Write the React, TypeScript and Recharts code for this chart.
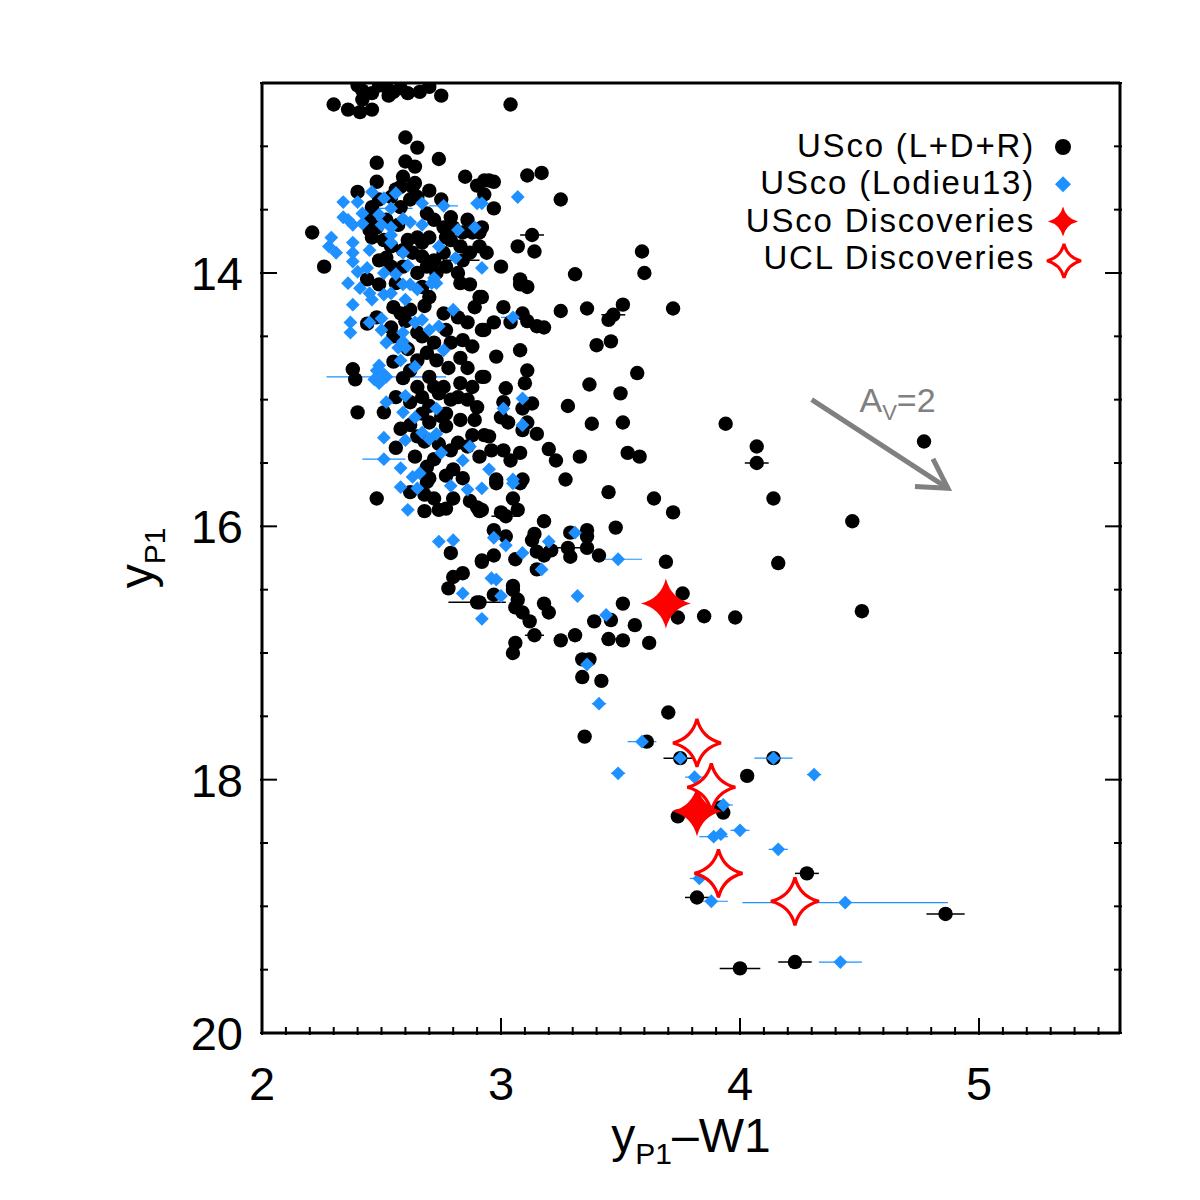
import React from 'react'
import {
  ScatterChart,
  Scatter,
  XAxis,
  YAxis,
  ErrorBar,
  ReferenceLine,
  ReferenceDot,
} from 'recharts'

// [color y_P1 - W1, magnitude y_P1, optional x error]
type Row = [number, number, number?]

const USCO_LDR: Row[] = [
  [2.40, 12.52], [2.42, 12.56], [2.46, 12.58], [2.49, 12.52], [2.52, 12.53], [2.53, 12.60],
  [2.55, 12.57], [2.58, 12.54], [2.61, 12.58], [2.66, 12.57], [2.70, 12.53], [2.75, 12.60],
  [2.42, 12.63], [2.30, 12.67], [2.36, 12.71], [2.41, 12.73], [2.46, 12.71], [3.04, 12.67],
  [2.60, 12.93], [2.65, 13.01], [2.48, 13.13], [2.60, 13.12], [2.64, 13.16], [2.74, 13.10],
  [2.85, 13.24], [2.93, 13.27], [2.48, 13.28], [2.59, 13.24], [2.58, 13.32], [2.64, 13.29],
  [2.40, 13.36], [2.90, 13.31], [2.21, 13.68], [2.26, 13.95],
  [2.63, 13.32], [2.56, 13.34], [2.54, 13.40], [2.49, 13.42], [2.46, 13.48], [2.45, 13.58],
  [2.48, 13.64], [2.52, 13.58], [2.58, 13.48], [2.62, 13.42], [2.65, 13.40], [2.69, 13.53],
  [2.72, 13.58], [2.76, 13.64], [2.79, 13.56], [2.80, 13.64], [2.77, 13.72], [2.70, 13.72],
  [2.67, 13.76], [2.65, 13.72], [2.61, 13.74], [2.59, 13.82], [2.63, 13.84], [2.67, 13.87],
  [2.72, 13.90], [2.76, 13.84], [2.79, 13.74], [2.83, 13.79], [2.86, 13.58], [2.88, 13.68],
  [2.91, 13.79], [2.84, 13.68], [2.54, 13.79], [2.51, 13.74], [2.46, 13.72], [2.45, 13.66],
  [2.49, 13.90], [2.54, 13.95], [2.59, 13.95], [2.65, 14.00], [2.69, 13.95], [2.73, 14.00],
  [2.77, 13.95], [2.82, 14.00], [2.84, 13.90, 0.07], [2.87, 13.84], [2.92, 13.64], [2.94, 13.84],
  [2.95, 13.27], [2.97, 13.28], [3.11, 13.23], [3.17, 13.21], [2.93, 13.38], [2.97, 13.49],
  [3.25, 13.42], [2.91, 13.68], [3.13, 13.70, 0.05], [3.07, 13.79], [3.14, 13.83], [3.00, 13.95],
  [3.31, 14.01], [3.59, 13.83], [3.60, 14.00], [3.08, 14.05],
  [3.08, 14.09], [3.11, 14.11], [2.92, 14.19], [3.01, 14.27], [3.09, 14.32], [3.11, 14.38],
  [3.15, 14.42], [3.18, 14.43], [3.04, 14.39], [2.97, 14.39], [2.93, 14.45], [3.25, 14.30],
  [3.36, 14.28], [3.51, 14.25], [3.45, 14.37], [3.47, 14.33, 0.05], [3.72, 14.28], [3.08, 14.61],
  [2.98, 14.66], [3.40, 14.57], [3.46, 14.54], [3.11, 14.77], [2.93, 14.82], [3.02, 14.91],
  [3.10, 14.87], [3.37, 14.88], [3.57, 14.79], [3.50, 14.95], [3.28, 15.05], [3.13, 15.03],
  [3.09, 15.07], [3.01, 15.02], [3.00, 15.14], [3.03, 15.18], [3.11, 15.18], [3.09, 15.24],
  [3.15, 15.27], [3.38, 15.19], [3.51, 15.18], [2.95, 15.29], [2.96, 15.40], [3.01, 15.40],
  [3.04, 15.48], [3.08, 15.42], [3.20, 15.39], [3.23, 15.48], [3.33, 15.45], [3.53, 15.42],
  [3.58, 15.45], [2.98, 15.63], [3.09, 15.63], [3.27, 15.63],
  [2.98, 15.66], [3.08, 15.66], [3.45, 15.73], [3.64, 15.78], [3.72, 15.89], [3.05, 15.78],
  [3.07, 15.87], [3.00, 15.89], [3.02, 15.92, 0.06], [2.92, 15.87], [3.18, 15.96], [3.48, 16.01],
  [3.14, 16.06], [3.13, 16.11], [3.29, 16.05], [3.36, 16.03], [3.36, 16.08], [2.97, 16.03],
  [3.02, 16.08], [3.15, 16.20], [3.18, 16.23], [3.21, 16.19], [3.28, 16.17, 0.1], [3.29, 16.24],
  [3.36, 16.17], [3.41, 16.23], [2.97, 16.23], [3.06, 16.26], [2.92, 16.27], [3.69, 16.28],
  [3.15, 16.34], [3.05, 16.47], [3.05, 16.50], [3.07, 16.58], [3.09, 16.68], [3.12, 16.75],
  [3.18, 16.61], [3.20, 16.68], [3.06, 16.64], [2.97, 16.54], [2.91, 16.60], [3.51, 16.61],
  [3.39, 16.75], [3.46, 16.74], [3.56, 16.78], [3.31, 16.86], [3.25, 16.90], [3.14, 16.86, 0.04],
  [3.06, 16.92], [3.05, 17.00], [3.45, 16.89, 0.03], [3.51, 16.90], [3.62, 16.92], [3.34, 17.05],
  [3.37, 17.05], [3.34, 17.19], [3.42, 17.22], [3.74, 16.72],
  [2.48, 15.78], [2.69, 15.65], [2.68, 15.75], [2.72, 15.78], [2.80, 15.78], [2.68, 15.88],
  [2.74, 15.87], [2.77, 15.86], [2.90, 15.85], [2.91, 15.88], [2.79, 16.21], [2.92, 16.28],
  [2.80, 16.40], [2.84, 16.37], [2.78, 16.49], [2.90, 16.60, 0.12],
  [2.49, 14.09], [2.56, 14.08], [2.67, 14.11], [2.70, 14.19], [2.83, 14.08], [2.87, 14.09],
  [2.91, 14.19], [2.89, 14.27], [2.55, 14.27], [2.58, 14.32], [2.62, 14.29], [2.76, 14.32],
  [2.82, 14.35], [2.86, 14.39], [2.92, 14.45], [2.48, 14.35], [2.54, 14.43], [2.65, 14.47],
  [2.67, 14.50], [2.77, 14.45], [2.79, 14.55], [2.84, 14.53], [2.88, 14.58], [2.69, 14.63],
  [2.65, 14.69], [2.73, 14.69], [2.83, 14.67], [2.92, 14.82], [2.70, 14.82], [2.59, 14.83],
  [2.65, 14.90], [2.72, 14.90], [2.76, 14.90], [2.83, 14.87], [2.88, 14.90], [2.67, 14.98],
  [2.74, 14.95], [2.82, 14.98], [2.86, 15.00], [2.90, 15.06], [2.56, 14.98], [2.51, 15.10],
  [2.67, 15.11], [2.70, 15.18], [2.77, 15.11], [2.83, 15.16], [2.77, 15.21], [2.89, 15.16],
  [2.88, 15.28], [2.93, 15.28], [2.65, 15.29], [2.82, 15.34], [2.79, 15.40], [2.86, 15.37],
  [2.91, 15.45], [2.80, 15.55], [2.56, 15.38], [2.69, 15.53], [2.40, 15.10], [2.38, 14.76],
  [2.39, 14.84],
  [2.62, 15.02], [2.70, 15.05], [2.75, 15.13], [2.62, 15.20], [2.68, 15.33], [2.74, 15.35],
  [2.64, 15.45], [2.72, 15.47], [2.77, 15.60], [2.70, 15.62], [2.84, 15.62], [2.62, 15.73],
  [2.87, 15.80], [2.58, 15.23], [2.79, 15.00], [2.61, 14.60], [2.72, 14.55], [2.55, 14.70],
  [2.62, 14.77], [2.78, 14.75], [2.86, 14.75], [2.55, 14.50], [2.44, 14.40], [2.60, 14.38],
  [2.68, 14.26], [2.44, 14.05], [2.52, 13.88], [2.57, 13.62], [2.70, 13.35], [2.75, 13.42],
  [3.94, 15.19, 0.02], [4.07, 15.37], [4.07, 15.50, 0.05], [4.14, 15.78], [4.47, 15.96],
  [4.16, 16.29], [4.77, 15.33], [4.51, 16.67], [3.76, 16.53], [3.85, 16.71], [3.98, 16.72],
  [3.70, 17.47], [3.35, 17.66], [3.61, 17.70], [3.75, 17.83, 0.07], [4.14, 17.83], [4.03, 17.97],
  [3.92, 18.22], [3.93, 18.26], [3.74, 18.29], [4.28, 18.74, 0.05], [3.82, 18.93, 0.05],
  [4.86, 19.06, 0.08], [4.00, 19.49, 0.085], [4.23, 19.44, 0.07],
]

const USCO_LODIEU13: Row[] = [
  [2.34, 13.44], [2.40, 13.44], [2.46, 13.36], [2.51, 13.41], [2.56, 13.37], [2.67, 13.45],
  [2.76, 13.47, 0.06], [2.54, 13.49, 0.09], [2.90, 13.45], [2.34, 13.56], [2.36, 13.58],
  [2.38, 13.62], [2.42, 13.53], [2.42, 13.61], [2.49, 13.54], [2.50, 13.62], [2.54, 13.64],
  [2.59, 13.57], [2.62, 13.60], [2.67, 13.62], [2.82, 13.66], [2.89, 13.64], [2.29, 13.72],
  [2.28, 13.79], [2.31, 13.84], [2.38, 13.76], [2.38, 13.84], [2.38, 13.91], [2.45, 13.82],
  [2.54, 13.70], [2.54, 13.76], [2.59, 13.84], [2.61, 13.94], [2.74, 13.79], [2.81, 13.88],
  [2.92, 13.96], [2.40, 13.99], [2.44, 13.96], [2.51, 14.00], [2.56, 14.01], [2.72, 14.04],
  [3.07, 13.40], [2.92, 13.45],
  [2.36, 14.08], [2.41, 14.12], [2.45, 14.16], [2.46, 14.21], [2.38, 14.25], [2.51, 14.17],
  [2.54, 14.16], [2.59, 14.09], [2.62, 14.09], [2.65, 14.13], [2.71, 14.08], [2.73, 14.08],
  [2.60, 14.21], [2.37, 14.39], [2.37, 14.47], [2.45, 14.39], [2.50, 14.36], [2.50, 14.45],
  [2.64, 14.39], [2.67, 14.37], [2.70, 14.45], [2.74, 14.42], [2.80, 14.29], [2.59, 14.47],
  [2.52, 14.55], [2.59, 14.54], [2.57, 14.59], [2.60, 14.59], [2.58, 14.69], [2.64, 14.74],
  [2.49, 14.73], [2.48, 14.77], [2.51, 14.80], [2.52, 14.82, 0.25], [2.47, 14.84], [2.49, 14.87],
  [2.76, 14.61], [2.60, 14.97], [2.52, 15.02], [2.59, 15.10], [2.73, 15.07], [2.64, 15.14],
  [2.67, 15.26], [2.70, 15.31], [2.73, 15.27], [2.75, 15.42], [2.87, 15.37], [2.84, 15.48],
  [2.51, 15.30], [2.60, 15.32], [2.51, 15.47, 0.09], [2.58, 15.54], [2.63, 15.61], [2.66, 15.58],
  [2.95, 15.55],
  [3.05, 14.35, 0.05], [3.09, 14.99], [3.01, 15.07], [3.09, 15.20], [3.05, 15.63],
  [2.58, 15.69], [2.65, 15.70], [2.61, 15.87], [2.79, 15.68], [2.86, 15.71], [2.92, 15.70],
  [2.74, 16.12], [2.80, 16.11], [2.84, 16.53], [2.92, 16.73],
  [3.05, 15.66], [2.97, 16.09], [3.02, 16.15], [3.09, 16.21], [3.20, 16.12], [3.31, 16.05],
  [3.17, 16.34], [3.49, 16.26, 0.1], [2.96, 16.41], [2.98, 16.42], [3.00, 16.55], [3.32, 16.55],
  [3.44, 16.70], [3.36, 17.09],
  [3.41, 17.40, 0.03], [3.59, 17.70, 0.06], [3.75, 17.83], [4.14, 17.83, 0.08], [3.49, 17.95, 0.03],
  [4.31, 17.96, 0.03], [3.81, 17.98, 0.04], [3.93, 18.20, 0.04], [4.00, 18.40, 0.04],
  [3.89, 18.45, 0.06], [3.92, 18.43], [4.16, 18.55, 0.04], [3.83, 18.78, 0.04], [3.88, 18.96, 0.07],
  [4.44, 18.97, 0.43], [4.42, 19.44, 0.09],
]

const USCO_DISCOVERIES: Row[] = [
  [3.69, 16.61], [3.82, 18.25],
]

const UCL_DISCOVERIES: Row[] = [
  [3.82, 17.71], [3.88, 18.06], [3.91, 18.74], [4.23, 18.96],
]

// A_V = 2 reddening vector
const REDDENING = { from: { x: 4.30, y: 15.0 }, to: { x: 4.87, y: 15.70 }, label: { x: 4.50, y: 15.10 } }

const X_DOMAIN: [number, number] = [2, 5.59]
const Y_DOMAIN: [number, number] = [12.5, 20]
const X_MAJOR = [2, 3, 4, 5]
const Y_MAJOR = [14, 16, 18, 20]
const X_TICKS = Array.from({ length: 36 }, (_, i) => Math.round((2 + i * 0.1) * 10) / 10)
const Y_TICKS = Array.from({ length: 16 }, (_, i) => 12.5 + i * 0.5)

const LEGEND = [
  { label: 'USco (L+D+R)', kind: 'dot' },
  { label: 'USco (Lodieu13)', kind: 'diamond' },
  { label: 'USco Discoveries', kind: 'star' },
  { label: 'UCL Discoveries', kind: 'hollow' },
]

const BLUE = '#1e90ff'
const RED = '#ff0000'
const GREY = '#808080'
const FONT = '"Liberation Sans", Arial, Helvetica, sans-serif'

const toPoints = (rows: Row[]) =>
  rows.map(([x, y, ex]) => (ex ? { x, y, ex } : { x, y }))

function starPath(cx: number, cy: number, r: number) {
  const c = 0.2 * r
  return (
    `M${cx},${cy - r}Q${cx + c},${cy - c} ${cx + r},${cy}` +
    `Q${cx + c},${cy + c} ${cx},${cy + r}` +
    `Q${cx - c},${cy + c} ${cx - r},${cy}` +
    `Q${cx - c},${cy - c} ${cx},${cy - r}Z`
  )
}

function diamondPath(cx: number, cy: number, s: number) {
  return `M${cx},${cy - s}L${cx + s},${cy}L${cx},${cy + s}L${cx - s},${cy}Z`
}

const DotShape = (p: any) => <circle cx={p.cx} cy={p.cy} r={7.2} fill="#000" />
const DiamondShape = (p: any) => <path d={diamondPath(p.cx, p.cy, 6.9)} fill={BLUE} />
const StarShape = (p: any) => <path d={starPath(p.cx, p.cy, 25)} fill={RED} />
const HollowStarShape = (p: any) => (
  <path d={starPath(p.cx, p.cy, 24)} fill="#fff" stroke={RED} strokeWidth={3.2} />
)

const MAJOR_LEN = 17
const MINOR_LEN = 8

function BottomTick({ x, y, payload }: any) {
  const major = X_MAJOR.includes(payload.value)
  return (
    <g>
      <line x1={x} x2={x} y1={y} y2={y - (major ? MAJOR_LEN : MINOR_LEN)} stroke="#000" strokeWidth={2} />
      {major && (
        <text x={x} y={y + 65} textAnchor="middle" fontSize={47} fill="#000">
          {payload.value}
        </text>
      )}
    </g>
  )
}

function TopTick({ x, y, payload }: any) {
  const major = X_MAJOR.includes(payload.value)
  return <line x1={x} x2={x} y1={y} y2={y + (major ? MAJOR_LEN : MINOR_LEN)} stroke="#000" strokeWidth={2} />
}

function LeftTick({ x, y, payload }: any) {
  const major = Y_MAJOR.includes(payload.value)
  return (
    <g>
      <line x1={x} x2={x + (major ? MAJOR_LEN : MINOR_LEN)} y1={y} y2={y} stroke="#000" strokeWidth={2} />
      {major && (
        <text x={x - 17} y={y + 17} textAnchor="end" fontSize={47} fill="#000">
          {payload.value}
        </text>
      )}
    </g>
  )
}

function RightTick({ x, y, payload }: any) {
  const major = Y_MAJOR.includes(payload.value)
  return <line x1={x} x2={x - (major ? MAJOR_LEN : MINOR_LEN)} y1={y} y2={y} stroke="#000" strokeWidth={2} />
}

function XLabel({ viewBox }: any) {
  const cx = viewBox.x + viewBox.width / 2
  return (
    <text x={cx} y={viewBox.y + 119} textAnchor="middle" fontSize={48} fill="#000">
      y
      <tspan fontSize={30} dy={12}>P1</tspan>
      <tspan dy={-12}>–W1</tspan>
    </text>
  )
}

function YLabel({ viewBox }: any) {
  const cx = viewBox.x + 41
  const cy = viewBox.y + viewBox.height / 2
  return (
    <text x={cx} y={cy} transform={`rotate(-90 ${cx} ${cy})`} textAnchor="middle" fontSize={48} fill="#000">
      y
      <tspan fontSize={30} dy={12}>P1</tspan>
    </text>
  )
}

function ReddeningArrow({ x1, y1, x2, y2 }: any) {
  const a = Math.atan2(y2 - y1, x2 - x1)
  const len = 33
  const spread = Math.PI / 6
  const h1 = `${x2 - len * Math.cos(a - spread)},${y2 - len * Math.sin(a - spread)}`
  const h2 = `${x2 - len * Math.cos(a + spread)},${y2 - len * Math.sin(a + spread)}`
  return (
    <g stroke={GREY} strokeWidth={5} fill="none">
      <line x1={x1} y1={y1} x2={x2} y2={y2} />
      <polyline points={`${h1} ${x2},${y2} ${h2}`} />
    </g>
  )
}

const ReddeningLabel = ({ cx, cy }: any) => (
  <text x={cx} y={cy} fontSize={34} fill={GREY}>
    A
    <tspan fontSize={22} dy={8}>V</tspan>
    <tspan dy={-8}>=2</tspan>
  </text>
)

function LegendBox() {
  const right = 1035
  const iconX = 1063
  return (
    <g>
      {LEGEND.map((item, i) => {
        const base = 157 + i * 37.3
        const cy = base - 10
        return (
          <g key={item.label}>
            <text x={right} y={base} textAnchor="end" fontSize={33} letterSpacing={1.8} fill="#000">
              {item.label}
            </text>
            {item.kind === 'dot' && <circle cx={iconX} cy={cy} r={8} fill="#000" />}
            {item.kind === 'diamond' && <path d={diamondPath(iconX, cy, 8)} fill={BLUE} />}
            {item.kind === 'star' && <path d={starPath(iconX, cy, 15)} fill={RED} />}
            {item.kind === 'hollow' && (
              <path d={starPath(iconX + 1, cy + 2, 17)} fill="#fff" stroke={RED} strokeWidth={3} />
            )}
          </g>
        )
      })}
    </g>
  )
}

export default function App() {
  const frame = { stroke: '#000', strokeWidth: 3 }
  return (
    <div style={{ position: 'absolute', left: 0, top: 0, width: 1200, height: 1200, background: '#fff', fontFamily: FONT }}>
      <ScatterChart width={1200} height={1200} margin={{ top: 73, right: 70, bottom: 37, left: 112 }}>
        <XAxis
          dataKey="x"
          type="number"
          domain={X_DOMAIN}
          ticks={X_TICKS}
          interval={0}
          allowDataOverflow
          tickSize={0}
          tickLine={false}
          tick={BottomTick}
          axisLine={frame}
          height={130}
          label={XLabel}
        />
        <XAxis
          xAxisId="top"
          orientation="top"
          type="number"
          domain={X_DOMAIN}
          ticks={X_TICKS}
          interval={0}
          allowDataOverflow
          tickSize={0}
          tickLine={false}
          tick={TopTick}
          axisLine={frame}
          height={10}
        />
        <YAxis
          dataKey="y"
          type="number"
          domain={Y_DOMAIN}
          reversed
          ticks={Y_TICKS}
          interval={0}
          allowDataOverflow
          tickSize={0}
          tickLine={false}
          tick={LeftTick}
          axisLine={frame}
          width={150}
          label={YLabel}
        />
        <YAxis
          yAxisId="right"
          orientation="right"
          type="number"
          domain={Y_DOMAIN}
          reversed
          ticks={Y_TICKS}
          interval={0}
          allowDataOverflow
          tickSize={0}
          tickLine={false}
          tick={RightTick}
          axisLine={frame}
          width={10}
        />
        <Scatter name="USco (L+D+R)" data={toPoints(USCO_LDR)} shape={DotShape} isAnimationActive={false}>
          <ErrorBar dataKey="ex" direction="x" width={0} stroke="#000" strokeWidth={1.5} isAnimationActive={false} />
        </Scatter>
        <Scatter name="USco (Lodieu13)" data={toPoints(USCO_LODIEU13)} shape={DiamondShape} isAnimationActive={false}>
          <ErrorBar dataKey="ex" direction="x" width={0} stroke={BLUE} strokeWidth={1.2} isAnimationActive={false} />
        </Scatter>
        <Scatter name="USco Discoveries" data={toPoints(USCO_DISCOVERIES)} shape={StarShape} isAnimationActive={false} />
        <Scatter name="UCL Discoveries" data={toPoints(UCL_DISCOVERIES)} shape={HollowStarShape} isAnimationActive={false} />
        <ReferenceLine segment={[REDDENING.from, REDDENING.to]} shape={ReddeningArrow} ifOverflow="visible" />
        <ReferenceDot x={REDDENING.label.x} y={REDDENING.label.y} r={0} shape={ReddeningLabel} ifOverflow="visible" />
        <LegendBox />
      </ScatterChart>
    </div>
  )
}
